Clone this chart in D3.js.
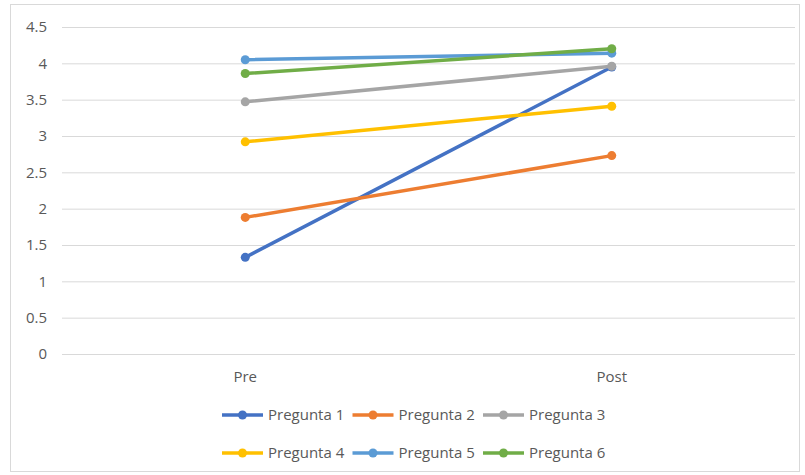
<!DOCTYPE html>
<html>
<head>
<meta charset="utf-8">
<script src="https://cdn.jsdelivr.net/npm/d3@7"></script>
<style>
  body { margin: 0; background: #fff; }
  text { font-family: "Open Sans", "DejaVu Sans", sans-serif; }
</style>
</head>
<body>
<svg id="chart"></svg>
<script>
// data
const categories = ["Pre", "Post"];
const seriesNames = ["Pregunta 1", "Pregunta 2", "Pregunta 3", "Pregunta 4", "Pregunta 5", "Pregunta 6"];
const preValues = [1.33, 1.88, 3.47, 2.92, 4.05, 3.86];
const postValues = [3.95, 2.73, 3.96, 3.41, 4.14, 4.20];
const yTicks = [0, 0.5, 1, 1.5, 2, 2.5, 3, 3.5, 4, 4.5];
const colors = ["#4472C4", "#ED7D31", "#A5A5A5", "#FFC000", "#5B9BD5", "#70AD47"];

const svg = d3.select("#chart")
    .attr("width", 805)
    .attr("height", 475);

// outer chart border
svg.append("rect")
    .attr("x", 10.5).attr("y", 4.5)
    .attr("width", 789).attr("height", 467)
    .attr("fill", "#fff")
    .attr("stroke", "#d9d9d9");

const margin = { left: 62, right: 795, top: 27, bottom: 354 };

const x = d3.scaleBand()
    .domain(categories)
    .range([margin.left, margin.right]);
const y = d3.scaleLinear()
    .domain([0, 4.5])
    .range([margin.bottom, margin.top]);

// gridlines + y axis labels
const yAxis = d3.axisLeft(y)
    .tickValues(yTicks)
    .tickSize(-(margin.right - margin.left))
    .tickPadding(15)
    .tickFormat(d => d);
const gy = svg.append("g")
    .attr("transform", `translate(${margin.left},0)`)
    .call(yAxis);
gy.select(".domain").remove();
gy.selectAll(".tick line").attr("stroke", "#d9d9d9");
gy.selectAll(".tick text")
    .attr("fill", "#595959")
    .style("font-size", "15px");

// x axis labels
const xAxis = d3.axisBottom(x).tickSize(0).tickPadding(17);
const gx = svg.append("g")
    .attr("transform", `translate(0,${margin.bottom})`)
    .call(xAxis);
gx.select(".domain").remove();
gx.selectAll(".tick text")
    .attr("fill", "#595959")
    .style("font-size", "15px");

const series = seriesNames.map((name, i) => ({
    name: name,
    color: colors[i],
    values: [{ cat: "Pre", v: preValues[i] }, { cat: "Post", v: postValues[i] }]
}));

const line = d3.line()
    .x(d => x(d.cat) + x.bandwidth() / 2)
    .y(d => y(d.v));

series.forEach(s => {
    const g = svg.append("g");
    g.append("path")
        .datum(s.values)
        .attr("d", line)
        .attr("fill", "none")
        .attr("stroke", s.color)
        .attr("stroke-width", 3.5)
        .attr("stroke-linecap", "round");
    g.selectAll("circle")
        .data(s.values)
        .enter().append("circle")
        .attr("cx", d => x(d.cat) + x.bandwidth() / 2)
        .attr("cy", d => y(d.v))
        .attr("r", 4.5)
        .attr("fill", s.color);
});

// legend, 3 per row
const legend = svg.append("g");
series.forEach((s, i) => {
    const lx = 222 + (i % 3) * 130.5;
    const ly = 415 + Math.floor(i / 3) * 38;
    const item = legend.append("g").attr("transform", `translate(${lx},${ly})`);
    item.append("line")
        .attr("x1", 0).attr("x2", 41)
        .attr("stroke", s.color)
        .attr("stroke-width", 3.5);
    item.append("circle")
        .attr("cx", 20.5).attr("r", 4.5)
        .attr("fill", s.color);
    item.append("text")
        .attr("x", 46)
        .attr("dy", "0.35em")
        .attr("fill", "#595959")
        .style("font-size", "15px")
        .text(s.name);
});
</script>
</body>
</html>
